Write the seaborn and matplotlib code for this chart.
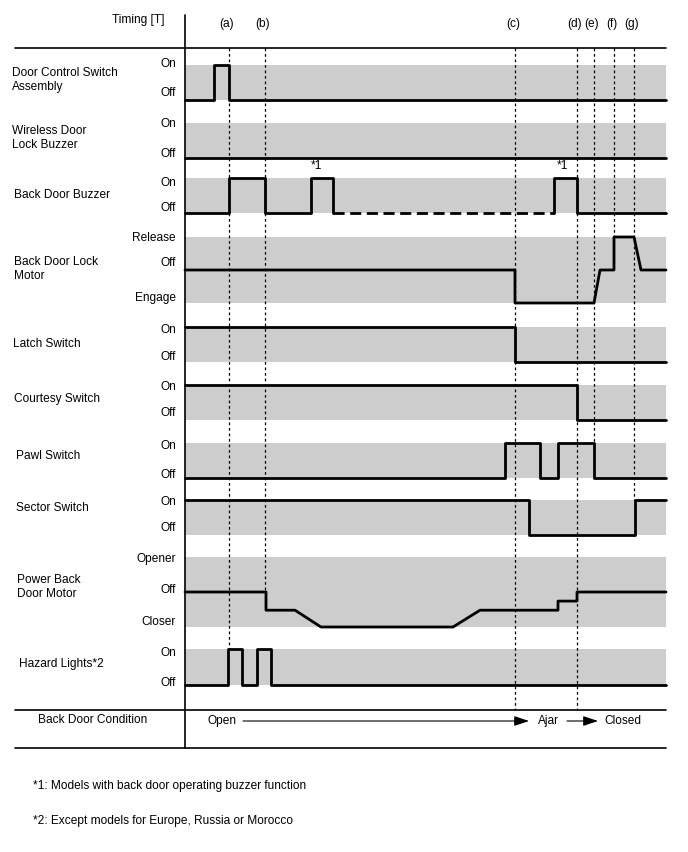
import matplotlib
matplotlib.use("Agg")
import matplotlib.pyplot as plt
import seaborn as sns
import pandas as pd

# ---- data (time axis read in picture units, levels 0..1 inside each band) ----
timing_labels = ["(a)", "(b)", "(c)", "(d)", "(e)", "(f)", "(g)"]
timing_t = [229, 265, 515, 577, 594, 614, 634]

row_names = ["Door Control Switch\nAssembly", "Wireless Door\nLock Buzzer",
             "Back Door Buzzer", "Back Door Lock\nMotor", "Latch Switch",
             "Courtesy Switch", "Pawl Switch", "Sector Switch",
             "Power Back\nDoor Motor", "Hazard Lights*2"]
row_states = [["On", "Off"], ["On", "Off"], ["On", "Off"],
              ["Release", "Off", "Engage"], ["On", "Off"], ["On", "Off"],
              ["On", "Off"], ["On", "Off"], ["Opener", "Off", "Closer"],
              ["On", "Off"]]

dcs_t = [185, 214, 214, 229, 229, 666]
dcs_v = [0, 0, 1, 1, 0, 0]
wireless_t = [185, 666]
wireless_v = [0, 0]
buzzer_t = [185, 229, 229, 265, 265, 311, 311, 333, 333]
buzzer_v = [0, 0, 1, 1, 0, 0, 1, 1, 0]
buzzer_opt_t = [333, 554]          # dashed part
buzzer_opt_v = [0, 0]
buzzer2_t = [554, 554, 577, 577, 666]
buzzer2_v = [0, 1, 1, 0, 0]
lock_t = [185, 515, 515, 594, 600, 614, 614, 634, 641, 666]
lock_v = [0.5, 0.5, 0, 0, 0.5, 0.5, 1, 1, 0.5, 0.5]
latch_t = [185, 515, 515, 666]
latch_v = [1, 1, 0, 0]
courtesy_t = [185, 577, 577, 666]
courtesy_v = [1, 1, 0, 0]
pawl_t = [185, 505, 505, 540, 540, 558, 558, 594, 594, 666]
pawl_v = [0, 0, 1, 1, 0, 0, 1, 1, 0, 0]
sector_t = [185, 529, 529, 635, 635, 666]
sector_v = [1, 1, 0, 0, 1, 1]
power_t = [185, 266, 266, 295, 321, 453, 480, 558, 558, 577, 577, 666]
power_v = [0.5, 0.5, 0.24, 0.24, 0, 0, 0.24, 0.24, 0.37, 0.37, 0.5, 0.5]
hazard_t = [185, 228, 228, 242, 242, 257, 257, 271, 271, 666]
hazard_v = [0, 0, 1, 1, 0, 0, 1, 1, 0, 0]

footnotes = ["*1: Models with back door operating buzzer function",
             "*2: Except models for Europe, Russia or Morocco"]

# ---- layout (pixel space) ----
band_top = [65, 123, 178, 237, 327, 385, 443, 500, 557, 649]
band_bot = [100, 158, 213, 303, 362, 420, 478, 535, 627, 685]
name_x = [12, 12, 14, 14, 13, 14, 16, 16, 17, 19]
name_y = [80, 138, 195, 269, 344, 399, 456, 508, 587, 664]
state_y = [[64, 93], [124, 154], [183, 208], [238, 263, 298], [330, 357],
           [387, 413], [446, 475], [502, 528], [559, 590, 622], [653, 683]]
timing_end = [650, 592, 710, 710, 443, 237, 500]
x0, x1 = 185, 666

sns.set_style("white")
plt.rcParams["font.family"] = ["Liberation Sans", "DejaVu Sans"]
plt.rcParams["text.color"] = "black"
FS = 8.6

fig = plt.figure(figsize=(6.88, 8.52), dpi=100)
ax = fig.add_axes([0, 0, 1, 1])

# gray bands
for top, bot in zip(band_top, band_bot):
    ax.fill_between([x0, x1], top, bot, color="#cdcdcd", lw=0, zorder=1)

# timing dashed lines + labels
for lab, t, yend in zip(timing_labels, timing_t, timing_end):
    ax.plot([t, t], [48, yend], color="black", lw=0.9,
            linestyle=(0, (2.2, 2.2)), zorder=2)
    ax.text(t - 2, 24, lab, ha="center", va="center", fontsize=FS)

ax.text(138, 20, "Timing [T]", ha="center", va="center", fontsize=FS)


def draw(row, ts, vs, dashed=False):
    top, bot = band_top[row], band_bot[row]
    df = pd.DataFrame({"t": ts, "y": [bot - v * (bot - top) for v in vs]})
    ls = (0, (4, 2)) if dashed else "-"
    sns.lineplot(data=df, x="t", y="y", sort=False, estimator=None,
                 color="black", lw=2.0, linestyle=ls, ax=ax, zorder=4)


draw(0, dcs_t, dcs_v)
draw(1, wireless_t, wireless_v)
draw(2, buzzer_t, buzzer_v)
draw(2, buzzer_opt_t, buzzer_opt_v, dashed=True)
draw(2, buzzer2_t, buzzer2_v)
draw(3, lock_t, lock_v)
draw(4, latch_t, latch_v)
draw(5, courtesy_t, courtesy_v)
draw(6, pawl_t, pawl_v)
draw(7, sector_t, sector_v)
draw(8, power_t, power_v)
draw(9, hazard_t, hazard_v)
ax.set_xlim(0, 688)
ax.set_ylim(852, 0)
ax.axis("off")

# "*1" marks above buzzer pulses
ax.text(316, 166, "*1", ha="center", va="center", fontsize=FS)
ax.text(562, 166, "*1", ha="center", va="center", fontsize=FS)

# row names and state labels
for name, nx, ny, states, sy in zip(row_names, name_x, name_y, row_states, state_y):
    ax.text(nx, ny, name, ha="left", va="center", fontsize=FS, linespacing=1.25)
    for s, y in zip(states, sy):
        ax.text(176, y, s, ha="right", va="center", fontsize=FS)

# frame lines
for y in [48, 710, 748]:
    ax.plot([15, x1], [y, y], color="black", lw=1.2, zorder=3)
ax.plot([x0, x0], [15, 748], color="black", lw=1.2, zorder=3)

# back door condition row
ax.text(38, 720, "Back Door Condition", ha="left", va="center", fontsize=FS)
ax.text(207, 721, "Open", ha="left", va="center", fontsize=FS)
ax.text(538, 721, "Ajar", ha="left", va="center", fontsize=FS)
ax.text(604, 721, "Closed", ha="left", va="center", fontsize=FS)
arrow = dict(arrowstyle="-|>,head_length=0.9,head_width=0.3", color="black",
             lw=0.8, shrinkA=0, shrinkB=0)
ax.annotate("", xy=(529, 721), xytext=(243, 721), arrowprops=arrow)
ax.annotate("", xy=(598, 721), xytext=(567, 721), arrowprops=arrow)

# footnotes
ax.text(33, 786, footnotes[0], ha="left", va="center", fontsize=FS)
ax.text(33, 821, footnotes[1], ha="left", va="center", fontsize=FS)

fig.savefig("out.png", dpi=100)
